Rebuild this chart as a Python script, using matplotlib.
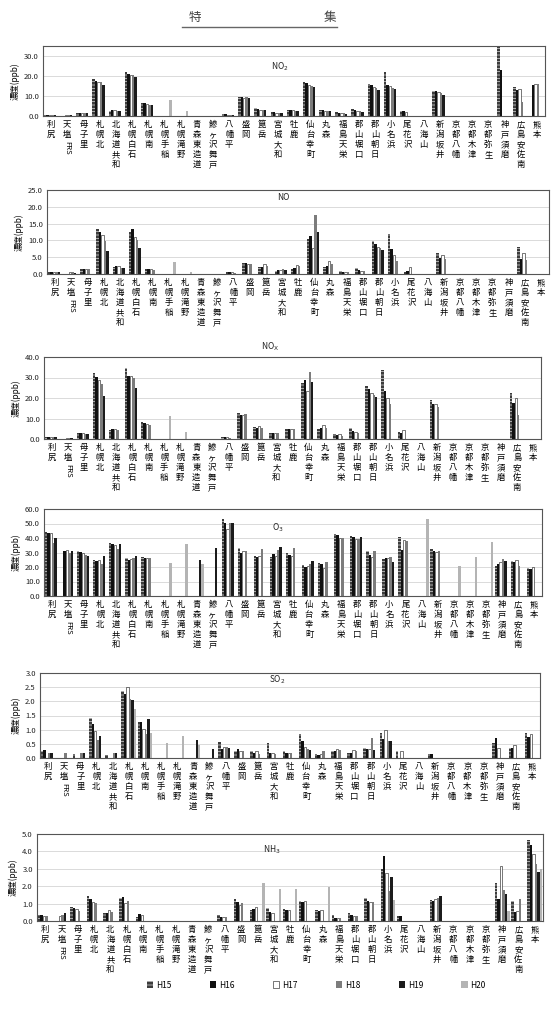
import numpy as np
import matplotlib
matplotlib.use("Agg")
import matplotlib.pyplot as plt
from matplotlib.lines import Line2D

plt.rcParams['font.family'] = ['Noto Sans CJK JP', 'DejaVu Sans']
plt.rcParams['hatch.color'] = 'white'
plt.rcParams['hatch.linewidth'] = 0.4

N = np.nan

stations = ['利尻', '天塩FRS', '母子里', '札幌北', '北海道共和', '札幌白石', '札幌南',
            '札幌手稲', '札幌滝野', '青森東造道', '鰺ヶ沢舞戸', '八幡平', '盛岡', '箟岳',
            '宮城大和', '牡鹿', '仙台幸町', '丸森', '福島天栄', '郡山堀口', '郡山朝日',
            '小名浜', '尾花沢', '八海山', '新潟坂井', '京都八幡', '京都木津', '京都弥生',
            '神戸須磨', '広島安佐南', '熊本']
years = ['H15', 'H16', 'H17', 'H18', 'H19', 'H20']
empty = (N, N, N, N, N, N)

# one row per station, columns H15..H20 (ppb)
no2 = [(0.5, 0.5, 0.4, 0.5, 0.4, N), (N, N, 0.4, 0.3, 0.3, N), (1.3, 1.5, 1.5, 1.4, 1.4, N),
       (18.5, 17.5, 17.0, 16.8, 15.5, N), (2.5, 2.9, 2.9, 2.5, 2.5, N),
       (22.2, 21.0, 20.5, 20.5, 19.5, N), (6.7, 6.5, 5.9, 5.6, 5.5, N),
       (N, N, N, N, N, 7.8), (N, N, N, N, N, 2.4), empty, empty,
       (0.8, 0.9, 0.7, 0.7, 0.6, N), (9.5, 9.6, 9.0, 9.7, 9.0, N), (3.8, 3.5, 3.2, 3.0, 2.8, N),
       (2.0, 1.8, 1.6, 1.5, 1.4, N), (3.0, 3.1, 2.8, 2.6, 2.5, N),
       (17.2, 16.5, 15.4, 15.0, 14.7, N), (3.1, 3.0, 2.7, 2.5, 2.4, N),
       (1.8, 1.7, 1.5, 1.3, 1.2, N), (3.6, 3.2, 2.7, 2.4, 2.0, N),
       (15.9, 15.3, 14.5, 14.0, 13.2, N), (21.9, 15.7, 15.0, 14.0, 13.3, N),
       (2.6, 2.3, 2.0, N, N, N), empty, (12.6, 12.3, 12.0, 11.5, 10.6, N),
       empty, empty, empty, (35.6, 23.0, N, N, N, N), (14.7, 12.8, 13.7, 6.8, N, N),
       (N, 15.7, 16.2, 15.9, N, N)]

no = [(0.6, 0.5, 0.6, 0.6, 0.7, N), (N, N, 0.5, 0.5, 0.4, N), (1.6, 1.6, 1.5, 1.5, N, N),
      (13.4, 12.4, 11.7, 9.9, 6.9, N), (2.0, 2.3, 2.5, 1.9, 1.8, N),
      (12.5, 13.3, 11.0, 10.2, 7.7, N), (1.6, 1.6, 1.4, 1.3, N, N),
      (N, N, N, N, N, 3.6), (N, N, N, N, N, 0.5), empty, empty,
      (0.5, 0.7, 0.5, 0.4, N, N), (3.3, 3.2, 3.0, 3.1, N, N), (2.0, 2.1, 3.0, 2.4, N, N),
      (1.0, 1.2, 1.3, 1.4, 1.3, N), (1.6, 1.8, 2.8, 2.4, N, N),
      (10.5, 11.2, 7.7, 17.6, 12.6, N), (2.0, 2.4, 3.9, 3.0, N, N),
      (0.8, 0.7, 0.7, 0.6, N, N), (1.7, 1.3, 1.0, 0.8, N, N),
      (9.9, 9.0, 8.1, 7.7, 7.1, N), (11.8, 7.4, 5.7, 4.0, N, N),
      (0.7, 0.9, 2.2, N, N, N), empty, (6.2, 4.9, 5.7, 4.5, N, N),
      empty, empty, empty, empty, (7.9, 4.5, 6.2, 4.3, N, N), empty]

nox = [(0.9, 1.0, 1.2, 1.2, 1.0, N), (N, N, 0.7, 0.6, 0.6, N), (2.8, 3.0, 2.9, 2.6, 2.6, N),
       (32.0, 30.4, 28.8, 26.6, 20.8, N), (4.5, 5.0, 4.8, 4.2, N, N),
       (34.6, 30.9, 30.6, 29.9, 24.8, N), (8.2, 7.8, 7.2, 6.6, N, N),
       (N, N, N, N, N, 11.4), (N, N, N, N, N, 3.4), empty, empty,
       (0.9, 1.1, 0.8, 0.6, N, N), (12.6, 11.9, 11.6, 12.0, N, N), (5.8, 5.3, 6.1, 5.3, N, N),
       (2.9, 2.8, 2.7, 2.9, N, N), (4.7, 4.8, 5.1, 4.9, N, N),
       (27.2, 28.8, 23.2, 32.8, 27.7, N), (5.0, 5.3, 6.7, 5.6, N, N),
       (2.4, 2.1, 2.3, 1.6, N, N), (5.3, 4.0, 3.4, 2.7, N, N),
       (25.8, 24.3, 22.6, 21.6, 20.5, N), (33.8, 23.2, 20.0, 17.3, N, N),
       (3.4, 3.1, 4.3, N, N, N), empty, (18.9, 17.3, 17.1, 15.7, N, N),
       empty, empty, empty, empty, (22.6, 17.8, 20.0, 11.7, N, N), empty]

o3 = [(44.4, 43.2, 43.5, 36.8, 39.8, N), (N, 31.0, 31.8, 29.4, 31.3, N),
      (31.0, 30.6, 29.9, 28.3, 27.6, N), (24.8, 24.1, 24.8, 21.8, 27.6, N),
      (36.8, 35.9, 35.2, 32.2, 35.6, N), (26.0, 24.8, 25.5, 26.0, 27.6, N),
      (26.7, 26.0, 26.0, 26.0, N, N), (N, N, N, N, N, 22.5), (N, N, N, N, N, 35.6),
      (N, N, N, N, 24.8, 22.0), (N, N, N, N, 32.9, N),
      (53.1, 50.6, 46.0, 50.6, 50.6, N), (32.9, 29.9, 31.3, 31.3, N, N),
      (27.8, 27.1, 27.8, 32.4, N, N), (26.7, 28.7, 27.8, 31.7, 33.6, N),
      (29.9, 28.3, 27.6, 32.9, N, N), (21.4, 19.8, 20.7, 22.1, 24.1, N),
      (22.5, 21.8, 19.5, 23.2, N, N), (42.5, 42.0, 39.8, 40.2, N, N),
      (41.4, 40.9, 39.3, 39.3, 40.5, N), (31.3, 28.3, 27.1, 31.3, N, N),
      (25.5, 26.0, 26.4, 26.7, 23.4, N), (40.9, 31.7, 38.6, 38.2, N, N),
      (N, N, N, N, N, 52.9), (32.2, 31.3, 30.1, 31.3, N, N),
      (N, N, N, N, N, 20.7), (N, N, N, N, N, 27.1), (N, N, N, N, N, 37.5),
      (20.7, 22.1, 23.7, 25.7, 24.0, N), (24.1, 23.7, 24.8, 20.7, N, N),
      (19.5, 18.4, 20.2, N, N, N)]

so2 = [(0.25, 0.27, N, 0.18, 0.18, N), (N, N, N, 0.19, N, N), (0.14, N, N, 0.19, 0.19, N),
       (1.42, 1.19, 0.95, 0.63, 0.77, N), (0.12, N, N, 0.18, 0.18, N),
       (2.37, 2.25, 2.49, 2.07, 2.05, 1.72), (1.26, 1.26, 1.04, 0.83, 1.38, 0.87),
       (N, N, N, N, N, 0.53), (N, N, N, N, N, 0.77), (N, N, N, N, 0.63, 0.45),
       (N, N, N, N, 0.31, N), (0.55, 0.33, 0.39, 0.39, 0.36, N),
       (0.26, 0.31, 0.26, 0.24, N, N), (0.25, 0.19, 0.24, 0.15, N, N),
       (0.52, 0.17, 0.19, 0.13, N, N), (0.26, 0.19, 0.19, 0.17, N, N),
       (0.83, 0.59, 0.39, 0.33, 0.27, N), (0.13, 0.12, 0.15, 0.25, N, N),
       (0.24, 0.25, 0.33, 0.27, N, N), (0.19, 0.19, 0.28, 0.24, N, N),
       (0.36, 0.31, 0.31, 0.69, 0.27, N), (0.87, 0.66, 0.98, 0.59, 0.59, N),
       (0.24, N, 0.25, N, N, N), empty, (0.15, 0.15, N, N, N, N),
       empty, empty, empty, (0.53, 0.69, 0.36, N, N, N), (0.36, 0.36, 0.45, N, N, N),
       (0.87, 0.75, 0.83, N, N, N)]

nh3 = [(0.33, 0.33, 0.30, 0.28, N, N), (N, N, 0.27, 0.33, 0.48, N),
       (0.83, 0.77, 0.71, 0.56, N, N), (1.42, 1.25, 1.10, 1.06, N, N),
       (0.48, 0.48, 0.62, 0.52, N, N), (1.33, 1.38, 1.04, 1.13, N, N),
       (0.23, 0.38, 0.33, N, N, N), empty, empty, empty, empty,
       (0.33, 0.25, 0.25, 0.24, N, N), (1.25, 1.10, 0.94, 1.06, N, N),
       (0.62, 0.71, 0.81, N, N, 2.21), (0.75, 0.52, 0.48, N, N, 1.83),
       (0.71, 0.62, 0.62, N, N, 1.83), (1.13, 1.10, 1.17, N, N, N),
       (0.62, 0.60, 0.65, N, N, 1.94), (0.33, 0.19, 0.19, 0.20, N, N),
       (0.48, 0.33, 0.30, 0.30, N, N), (1.33, 1.13, 1.10, 1.10, N, N),
       (2.98, 3.75, 2.73, 1.71, 2.54, 1.19), (0.27, 0.29, N, N, N, N), empty,
       (1.19, 1.13, 1.25, 1.33, 1.44, N), empty, empty, empty,
       (2.21, 1.29, 3.17, 1.77, 1.54, 0.56), (1.13, 0.52, 0.56, 1.29, N, N),
       (4.65, 4.37, 3.83, 3.27, 2.83, 2.96)]

# bar styles per year
faces = ['#3c3c3c', '#111111', 'white', '#7c7c7c', '#1c1c1c', '#b4b4b4']
hatches = ['-----', None, None, None, None, None]

W, H = 555, 1032
fig = plt.figure(figsize=(W / 100, H / 100), dpi=100)

# header
fig.text(195 / W, 1 - 17 / H, '特', fontsize=9, color='#444', ha='center', va='center')
fig.text(330 / W, 1 - 17 / H, '集', fontsize=9, color='#444', ha='center', va='center')
fig.add_artist(Line2D([182 / W, 337 / W], [1 - 27 / H, 1 - 27 / H], color='#666', lw=1.0))

panels = [
    (no2, 'NO$_2$', (43, 545, 46, 116), 35, 10, (0.472, 0.70)),
    (no, 'NO', (47, 549, 190, 274), 25, 5, (0.47, 0.905)),
    (nox, 'NO$_\\mathrm{X}$', (44, 541, 357, 439), 40, 10, (0.455, 1.13)),
    (o3, 'O$_3$', (44, 542, 509, 596), 60, 10, (0.47, 0.79)),
    (so2, 'SO$_2$', (40, 540, 673, 758), 3.0, 0.5, (0.474, 0.92)),
    (nh3, 'NH$_3$', (37, 543, 834, 921), 5.0, 1.0, (0.464, 0.82)),
]

x = np.arange(len(stations))
bw = 0.15

for data, title, (x0, x1, y0, y1), ymax, step, tpos in panels:
    ax = fig.add_axes([x0 / W, 1 - y1 / H, (x1 - x0) / W, (y1 - y0) / H])
    vals = np.array(data, dtype=float)
    for k, yr in enumerate(years):
        ax.bar(x + (k - 2.5) * bw, vals[:, k], width=bw, color=faces[k],
               hatch=hatches[k], label=yr,
               edgecolor='#111111' if k == 2 else None,
               linewidth=0.4 if k == 2 else 0)
    ax.set_xlim(-0.5, len(stations) - 0.5)
    ax.set_ylim(0, ymax)
    ticks = np.arange(0, ymax + 1e-9, step)
    ax.set_yticks(ticks)
    ax.set_yticklabels([f'{t:.1f}' for t in ticks], fontsize=5.5, color='#222')
    ax.set_xticks([])
    ax.tick_params(axis='y', length=0, pad=3)
    ax.yaxis.grid(True, color='#d4d4d4', lw=0.6)
    ax.set_axisbelow(True)
    for s in ax.spines.values():
        s.set_color('#555')
        s.set_linewidth(0.8)
    ax.set_ylabel('濃度(ppb)', fontsize=6, labelpad=3)
    ax.text(tpos[0], tpos[1], title, transform=ax.transAxes, fontsize=6,
            ha='center', va='center', color='#222')
    # vertical station labels
    for i, name in enumerate(stations):
        if name == '天塩FRS':
            ax.annotate('天\n塩', (i, 0), xytext=(0, -3), textcoords='offset points',
                        ha='center', va='top', fontsize=6, linespacing=1.15,
                        annotation_clip=False)
            ax.annotate('FRS', (i, 0), xytext=(0, -18), textcoords='offset points',
                        ha='center', va='top', fontsize=5.5, rotation=-90,
                        annotation_clip=False)
        else:
            ax.annotate('\n'.join(name), (i, 0), xytext=(0, -3), textcoords='offset points',
                        ha='center', va='top', fontsize=6, linespacing=1.15,
                        annotation_clip=False)
    last_ax = ax

handles, labels = last_ax.get_legend_handles_labels()
fig.legend(handles, labels, loc='center', bbox_to_anchor=(0.57, 1 - 985 / H), ncol=6,
           frameon=False, fontsize=6, handlelength=0.8, handleheight=0.8,
           handletextpad=0.3, columnspacing=4.6)

fig.savefig('out.png', dpi=100, facecolor='white')
